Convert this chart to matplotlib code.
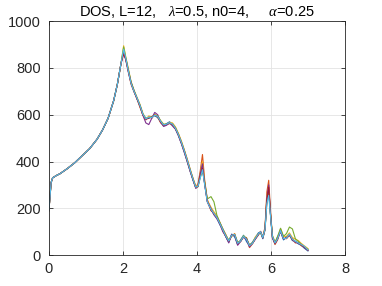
#!/usr/bin/env python3

import numpy as np
import matplotlib
matplotlib.use("Agg")
import matplotlib.pyplot as plt

# shared rising part of every curve (all runs coincide here)
X_HEAD = [0.0, 0.03, 0.06, 0.1, 0.2, 0.3, 0.5, 0.7, 0.9, 1.1, 1.3, 1.45, 1.6, 1.75, 1.85, 1.95]
Y_HEAD = [190, 250, 310, 330, 340, 348, 370, 395, 425, 455, 495, 535, 585, 660, 730, 820]

# energy grid after the first peak
X_TAIL = [2.02, 2.08, 2.15, 2.22, 2.3, 2.38, 2.46, 2.54, 2.62, 2.7, 2.78, 2.86, 2.94,
          3.02, 3.1, 3.18, 3.26, 3.34, 3.42, 3.5, 3.58, 3.66, 3.74, 3.82, 3.9,
          3.97, 4.03, 4.09, 4.15, 4.21, 4.28,
          4.38, 4.46, 4.54, 4.62, 4.7, 4.78, 4.86, 4.94, 5.02, 5.1, 5.18, 5.26, 5.34, 5.42, 5.5, 5.58, 5.66,
          5.72, 5.78, 5.84, 5.89, 5.94, 5.99, 6.04, 6.11,
          6.18, 6.26, 6.34, 6.42, 6.5, 6.58, 6.66, 6.74, 6.82, 6.9, 7.0]

DOS_BLUE = [870, 838, 788, 738, 702, 670, 636, 600, 585, 585, 592, 596, 588,
            570, 552, 562, 570, 556, 540, 512, 478, 440, 400, 358, 318,
            288, 300, 345, 385, 305, 232,
            200, 175, 158, 130, 110, 78, 55, 90, 78, 45, 65, 85, 58, 40, 55, 75, 95,
            98, 70, 115, 240, 280, 170, 75, 48,
            78, 100, 65, 78, 88, 62, 60, 48, 42, 30, 18]
DOS_ORANGE = [875, 835, 782, 730, 698, 668, 632, 598, 578, 592, 585, 600, 590,
              565, 555, 558, 562, 562, 545, 518, 485, 448, 410, 365, 325,
              292, 305, 360, 430, 320, 238,
              190, 182, 165, 140, 112, 88, 60, 80, 92, 50, 58, 78, 75, 32, 48, 70, 85,
              102, 78, 120, 270, 320, 185, 80, 45,
              65, 108, 72, 70, 85, 72, 52, 55, 40, 35, 25]
DOS_YELLOW = [895, 845, 795, 742, 705, 675, 645, 606, 580, 595, 590, 602, 595,
              575, 560, 558, 568, 565, 548, 520, 488, 450, 408, 366, 326,
              295, 298, 350, 400, 312, 235,
              205, 185, 165, 138, 105, 85, 62, 82, 90, 52, 62, 82, 68, 42, 52, 78, 92,
              95, 80, 112, 250, 290, 175, 85, 55,
              72, 112, 78, 80, 95, 75, 68, 62, 50, 40, 28]
DOS_PURPLE = [870, 832, 780, 735, 700, 668, 640, 598, 565, 558, 585, 610, 600,
              568, 550, 555, 565, 552, 538, 510, 476, 438, 398, 356, 318,
              285, 295, 348, 390, 305, 230,
              198, 172, 155, 132, 100, 80, 52, 88, 85, 42, 58, 78, 64, 35, 50, 68, 88,
              100, 72, 108, 245, 300, 170, 72, 50,
              68, 102, 68, 75, 85, 65, 55, 50, 44, 32, 20]
DOS_GREEN = [890, 842, 790, 740, 704, 672, 642, 604, 584, 588, 590, 598, 594,
             574, 558, 562, 564, 560, 544, 516, 482, 446, 404, 362, 322,
             290, 292, 332, 360, 310, 240,
             250, 228, 170, 140, 112, 85, 64, 84, 88, 55, 60, 82, 72, 44, 52, 72, 90,
             96, 74, 108, 225, 270, 168, 82, 55,
             80, 115, 80, 92, 120, 112, 70, 58, 46, 36, 24]
DOS_RED = [860, 836, 784, 736, 700, 670, 638, 600, 580, 586, 590, 598, 590,
           570, 554, 560, 565, 558, 540, 514, 480, 444, 402, 360, 320,
           288, 294, 338, 370, 302, 228,
           192, 176, 160, 134, 106, 80, 58, 86, 86, 48, 60, 78, 70, 40, 50, 70, 90,
           100, 74, 110, 232, 290, 172, 78, 50,
           70, 104, 70, 72, 88, 66, 56, 52, 44, 36, 20]
DOS_CYAN = [880, 840, 785, 735, 700, 672, 640, 602, 582, 590, 588, 598, 592,
            572, 556, 560, 566, 560, 542, 515, 482, 445, 405, 362, 322,
            290, 295, 330, 365, 300, 228,
            195, 178, 160, 135, 108, 82, 60, 85, 88, 50, 60, 80, 68, 40, 50, 72, 90,
            100, 75, 110, 220, 255, 165, 80, 52,
            70, 105, 70, 72, 90, 68, 58, 52, 45, 38, 22]

CURVES = [DOS_BLUE, DOS_ORANGE, DOS_YELLOW, DOS_PURPLE, DOS_GREEN, DOS_RED, DOS_CYAN]
COLORS = ["#0072BD", "#D95319", "#EDB120", "#7E2F8E", "#77AC30", "#A2142F", "#4DBEEE"]

X_TICKS = [0, 2, 4, 6, 8]
Y_TICKS = [0, 200, 400, 600, 800, 1000]


def main():
    plt.rcParams["font.family"] = ["Liberation Sans", "DejaVu Sans"]
    plt.rcParams["mathtext.fontset"] = "custom"
    plt.rcParams["mathtext.it"] = "Liberation Serif:italic"

    fig = plt.figure(figsize=(3.82, 2.86), dpi=100)
    ax = fig.add_axes([0.128, 0.108, 0.775, 0.818])

    x = np.array(X_HEAD + X_TAIL)
    for y_tail, c in zip(CURVES, COLORS):
        y = np.array(Y_HEAD + y_tail)
        ax.plot(x, y, color=c, linewidth=0.8)

    ax.set_xlim(0, 8)
    ax.set_ylim(0, 1000)
    ax.set_xticks(X_TICKS)
    ax.set_yticks(Y_TICKS)
    ax.grid(True, color="#e3e3e3", linewidth=0.6)
    ax.set_axisbelow(True)
    ax.tick_params(direction="in", length=3, width=0.6, colors="#262626",
                   labelsize=10.5, top=True, right=True)
    ax.tick_params(axis="y", pad=6)
    ax.tick_params(axis="x", pad=5)
    for s in ax.spines.values():
        s.set_color("#262626")
        s.set_linewidth(0.6)

    ax.set_title(r"DOS, L=12,   $\lambda$=0.5, n0=4,     $\alpha$=0.25",
                 fontsize=10.5, pad=4)

    fig.savefig("out.png", dpi=100)


if __name__ == "__main__":
    main()
